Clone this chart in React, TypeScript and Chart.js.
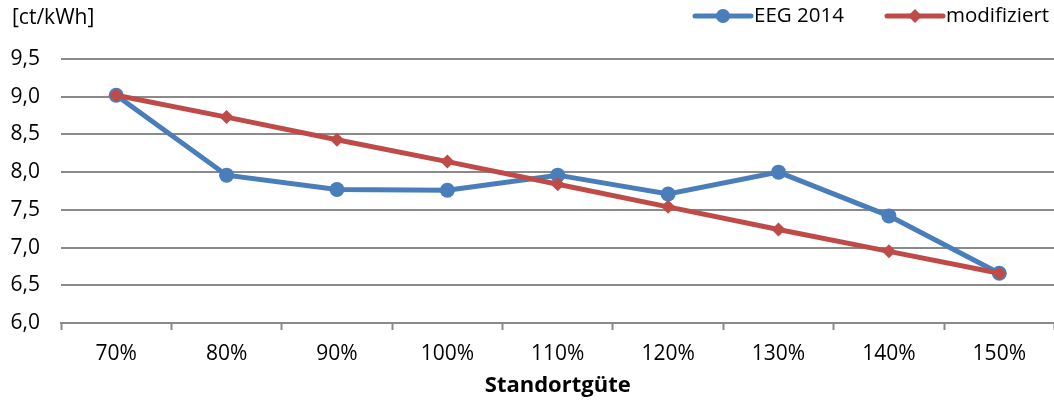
import React, { useEffect, useRef } from "react";
import { Chart, registerables } from "chart.js";

Chart.register(...registerables);

// Standortgüte categories and the two Vergütung series in ct/kWh
const categories = ["70%", "80%", "90%", "100%", "110%", "120%", "130%", "140%", "150%"];
const eeg2014 = [9.02, 7.96, 7.77, 7.76, 7.96, 7.71, 8.0, 7.42, 6.66];
const modifiziert = [9.02, 8.73, 8.43, 8.14, 7.84, 7.54, 7.24, 6.95, 6.66];
const yTickValues = [6.0, 6.5, 7.0, 7.5, 8.0, 8.5, 9.0, 9.5];

const BLUE = "#4A7EBB";
const RED = "#BE4B48";
const GRID = "#8a8a8a";
const FONT = "'Open Sans', 'Liberation Sans', sans-serif";

const overlay = {
  id: "overlay",
  afterDraw(chart: Chart) {
    const ctx = chart.ctx;
    ctx.save();
    ctx.fillStyle = "#000";
    // unit label
    ctx.font = `21px ${FONT}`;
    ctx.textAlign = "left";
    ctx.textBaseline = "middle";
    ctx.fillText("[ct/kWh]", 12, 18);

    // legend
    const drawEntry = (x0: number, label: string, color: string, shape: "circle" | "diamond") => {
      const y = 16;
      ctx.strokeStyle = color;
      ctx.lineWidth = 5;
      ctx.lineCap = "round";
      ctx.beginPath();
      ctx.moveTo(x0, y);
      ctx.lineTo(x0 + 56, y);
      ctx.stroke();
      ctx.fillStyle = color;
      const cx = x0 + 28;
      ctx.beginPath();
      if (shape === "circle") {
        ctx.arc(cx, y, 7, 0, Math.PI * 2);
      } else {
        ctx.moveTo(cx, y - 7);
        ctx.lineTo(cx + 7, y);
        ctx.lineTo(cx, y + 7);
        ctx.lineTo(cx - 7, y);
        ctx.closePath();
      }
      ctx.fill();
      ctx.fillStyle = "#000";
      ctx.font = `20.5px ${FONT}`;
      ctx.textAlign = "left";
      ctx.textBaseline = "middle";
      ctx.fillText(label, x0 + 59, y);
    };
    drawEntry(695, "EEG 2014", BLUE, "circle");
    drawEntry(887, "modifiziert", RED, "diamond");

    // x axis title
    const area = chart.chartArea;
    ctx.font = `bold 22px ${FONT}`;
    ctx.textAlign = "center";
    ctx.textBaseline = "alphabetic";
    ctx.fillText("Standortgüte", (area.left + area.right) / 2, 392);
    ctx.restore();
  },
};

export default function App() {
  const canvasRef = useRef<HTMLCanvasElement | null>(null);

  useEffect(() => {
    if (!canvasRef.current) return;
    const chart = new Chart(canvasRef.current, {
      type: "line",
      data: {
        labels: categories,
        datasets: [
          {
            label: "modifiziert",
            data: modifiziert,
            borderColor: RED,
            backgroundColor: RED,
            borderWidth: 5,
            pointStyle: "rectRot",
            pointRadius: 7,
            pointBorderWidth: 0,
            tension: 0,
            order: 0,
          },
          {
            label: "EEG 2014",
            data: eeg2014,
            borderColor: BLUE,
            backgroundColor: BLUE,
            borderWidth: 5,
            pointStyle: "circle",
            pointRadius: 7.5,
            pointBorderWidth: 0,
            tension: 0,
            order: 1,
          },
        ],
      },
      options: {
        animation: false,
        responsive: false,
        maintainAspectRatio: false,
        layout: { padding: { top: 59, left: 0, right: 4, bottom: 0 } },
        plugins: {
          legend: { display: false },
          title: { display: false },
          tooltip: { enabled: false },
        },
        scales: {
          x: {
            offset: true,
            grid: {
              offset: true,
              drawOnChartArea: false,
              drawTicks: true,
              tickLength: 7,
              tickColor: GRID,
              tickWidth: 2,
            },
            border: { display: true, color: GRID, width: 2 },
            ticks: {
              color: "#000",
              font: { family: FONT, size: 21 },
              padding: 11,
              maxRotation: 0,
              autoSkip: false,
            },
            afterFit: (scale: any) => {
              scale.height = 84;
            },
          },
          y: {
            min: 6,
            max: 9.5,
            afterBuildTicks: (scale: any) => {
              scale.ticks = yTickValues.map((v) => ({ value: v }));
            },
            grid: { drawTicks: false, color: GRID, lineWidth: 2 },
            border: { display: false },
            ticks: {
              color: "#000",
              font: { family: FONT, size: 21 },
              padding: 21,
              callback: (v: any) => Number(v).toFixed(1).replace(".", ","),
            },
            afterFit: (scale: any) => {
              scale.width = 61;
            },
          },
        },
      },
      plugins: [overlay],
    });
    return () => chart.destroy();
  }, []);

  return (
    <div
      style={{
        position: "absolute",
        left: 0,
        top: 0,
        width: 1054,
        height: 407,
        overflow: "hidden",
        background: "#fff",
      }}
    >
      <canvas ref={canvasRef} width={1062} height={407} style={{ display: "block" }} />
    </div>
  );
}
